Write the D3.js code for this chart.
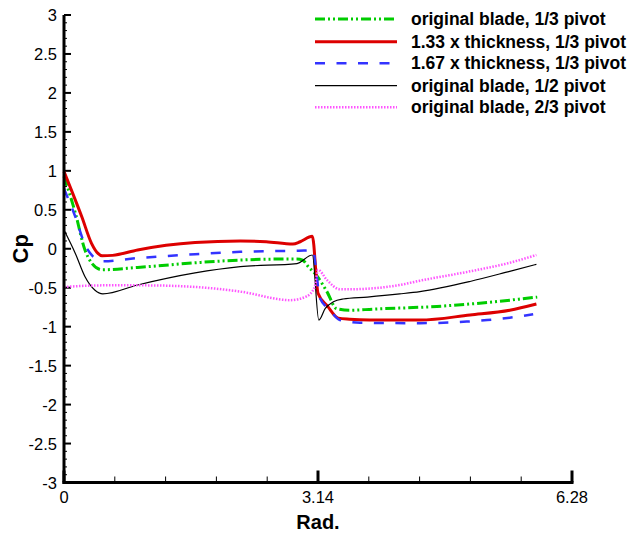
<!DOCTYPE html>
<html>
<head>
<meta charset="utf-8">
<script src="https://cdn.jsdelivr.net/npm/d3@7"></script>
<style>
  html, body { margin: 0; padding: 0; background: #fff; }
  svg { display: block; font-family: "Liberation Sans", Arial, sans-serif; }
</style>
</head>
<body>
<svg id="chart" width="636" height="536"></svg>
<script>
// Pressure coefficient around the revolution, [rad, Cp]
const origOneThird = [[0,0.93],[0.14,0.46],[0.26,-0.02],[0.34,-0.18],[0.47,-0.27],[0.91,-0.24],[1.62,-0.18],[2.18,-0.145],[2.88,-0.13],[2.95,-0.145],[3.02,-0.23],[3.12,-0.34],[3.25,-0.55],[3.37,-0.77],[3.53,-0.79],[3.82,-0.775],[4.61,-0.74],[5.23,-0.69],[5.85,-0.62]];
const thick133 = [[0,0.99],[0.22,0.41],[0.34,0.07],[0.42,-0.06],[0.47,-0.09],[0.6,-0.085],[0.91,-0.015],[1.62,0.08],[2.18,0.10],[2.5,0.09],[2.83,0.06],[2.92,0.09],[3.07,0.16],[3.14,-0.57],[3.26,-0.74],[3.39,-0.89],[3.53,-0.905],[3.78,-0.915],[4.40,-0.915],[5.02,-0.85],[5.51,-0.79],[5.84,-0.71]];
const thick167 = [[0,0.77],[0.14,0.41],[0.26,0.05],[0.36,-0.10],[0.47,-0.16],[0.91,-0.12],[1.62,-0.07],[2.18,-0.04],[2.9,-0.025],[3.08,-0.02],[3.12,-0.31],[3.16,-0.62],[3.29,-0.79],[3.41,-0.915],[3.66,-0.95],[4.40,-0.955],[4.98,-0.935],[5.23,-0.915],[5.51,-0.885],[5.80,-0.84]];
const origHalf = [[0,0.24],[0.14,-0.06],[0.26,-0.36],[0.38,-0.53],[0.48,-0.58],[0.91,-0.465],[1.62,-0.31],[2.18,-0.23],[2.88,-0.19],[3.07,-0.08],[3.15,-0.915],[3.23,-0.765],[3.33,-0.68],[3.45,-0.645],[3.75,-0.62],[4.15,-0.58],[4.40,-0.55],[5.02,-0.42],[5.51,-0.29],[5.84,-0.20]];
const origTwoThird = [[0,-0.49],[0.47,-0.47],[1.0,-0.47],[1.62,-0.49],[2.18,-0.55],[2.8,-0.66],[3.0,-0.61],[3.1,-0.49],[3.14,-0.27],[3.25,-0.40],[3.41,-0.52],[3.53,-0.52],[4.15,-0.465],[4.40,-0.41],[5.02,-0.29],[5.51,-0.18],[5.84,-0.08]];

const seriesNames = ["original blade, 1/3 pivot","1.33 x thickness, 1/3 pivot","1.67 x thickness, 1/3 pivot","original blade, 1/2 pivot","original blade, 2/3 pivot"];
const xTickLabels = ["0","3.14","6.28"];
const yTickLabels = ["3","2.5","2","1.5","1","0.5","0","-0.5","-1","-1.5","-2","-2.5","-3"];

const series = [
  {name: seriesNames[0], data: origOneThird, color: "#00cc00", width: 3, dash: "10,3,2,3,2,3"},
  {name: seriesNames[1], data: thick133, color: "#dd0000", width: 3, dash: null},
  {name: seriesNames[2], data: thick167, color: "#3333ff", width: 2.5, dash: "10,11.5"},
  {name: seriesNames[3], data: origHalf, color: "#000000", width: 1.2, dash: null},
  {name: seriesNames[4], data: origTwoThird, color: "#ff55ff", width: 2.5, dash: "1.5,1.5"}
];

const svg = d3.select("#chart");
const plotLeft = 64, plotRight = 572, plotTop = 15, plotBottom = 482.5;

const x = d3.scaleLinear().domain([0, 6.28]).range([plotLeft, plotRight]);
const y = d3.scaleLinear().domain([-3, 3]).range([plotBottom, plotTop]);

// minor ticks
const g = svg.append("g");
const xMinor = d3.range(1, 10).filter(i => i !== 5).map(i => i * 0.628);
g.selectAll("line.xminor").data(xMinor).join("line")
  .attr("x1", d => x(d)).attr("x2", d => x(d))
  .attr("y1", plotBottom).attr("y2", plotBottom - 6)
  .attr("stroke", "#000").attr("stroke-width", 1);
const yMinor = d3.range(-30, 31).filter(i => i % 5 !== 0).map(i => i / 10);
g.selectAll("line.yminor").data(yMinor).join("line")
  .attr("x1", plotLeft).attr("x2", plotLeft + 3)
  .attr("y1", d => y(d)).attr("y2", d => y(d))
  .attr("stroke", "#000").attr("stroke-width", 1);

// major ticks
const yMajor = yTickLabels.map(Number);
g.selectAll("line.ymajor").data(yMajor).join("line")
  .attr("x1", plotLeft).attr("x2", plotLeft + 7)
  .attr("y1", d => y(d)).attr("y2", d => y(d))
  .attr("stroke", "#000").attr("stroke-width", 2);
const xMajor = xTickLabels.map(Number);
g.selectAll("line.xmajor").data(xMajor).join("line")
  .attr("x1", d => x(d)).attr("x2", d => x(d))
  .attr("y1", plotBottom).attr("y2", plotBottom - 12)
  .attr("stroke", "#000").attr("stroke-width", 3);

// tick labels
g.selectAll("text.ylab").data(yTickLabels).join("text")
  .attr("x", plotLeft - 7).attr("y", d => y(+d) + 6)
  .attr("text-anchor", "end").attr("font-size", 16.5).attr("fill", "#000")
  .text(d => d);
g.selectAll("text.xlab").data(xTickLabels).join("text")
  .attr("x", d => x(+d)).attr("y", plotBottom + 20)
  .attr("text-anchor", "middle").attr("font-size", 16.5).attr("fill", "#000")
  .text(d => d);

// axis titles
svg.append("text").attr("x", x(3.14)).attr("y", 529)
  .attr("text-anchor", "middle").attr("font-size", 20).attr("font-weight", "bold")
  .text("Rad.");
svg.append("text")
  .attr("transform", `translate(28,${y(0)}) rotate(-90)`)
  .attr("text-anchor", "middle").attr("font-size", 22).attr("font-weight", "bold")
  .text("Cp");

// curves
const line = d3.line().x(d => x(d[0])).y(d => y(d[1])).curve(d3.curveMonotoneX);
svg.append("g").selectAll("path").data(series).join("path")
  .attr("d", d => line(d.data))
  .attr("fill", "none")
  .attr("stroke", d => d.color)
  .attr("stroke-width", d => d.width)
  .attr("stroke-dasharray", d => d.dash)
  .attr("stroke-linejoin", "round");

// axis lines
svg.append("line").attr("x1", plotLeft).attr("x2", plotLeft).attr("y1", plotTop).attr("y2", plotBottom + 1.5)
  .attr("stroke", "#000").attr("stroke-width", 3);
svg.append("line").attr("x1", plotLeft - 1.5).attr("x2", plotRight + 1.5).attr("y1", plotBottom).attr("y2", plotBottom)
  .attr("stroke", "#000").attr("stroke-width", 3);

// legend
const legendRowY = [19, 41.7, 63.3, 85.7, 107.3];
const lg = svg.append("g").selectAll("g").data(series).join("g")
  .attr("transform", (d, i) => `translate(0,${legendRowY[i]})`);
lg.append("line").attr("x1", 315).attr("x2", 397).attr("y1", 0).attr("y2", 0)
  .attr("stroke", d => d.color).attr("stroke-width", d => d.width)
  .attr("stroke-dasharray", d => d.dash);
lg.append("text").attr("x", 411).attr("y", 6)
  .attr("font-size", 17.5).attr("font-weight", "bold").attr("fill", "#000")
  .text(d => d.name);
</script>
</body>
</html>
